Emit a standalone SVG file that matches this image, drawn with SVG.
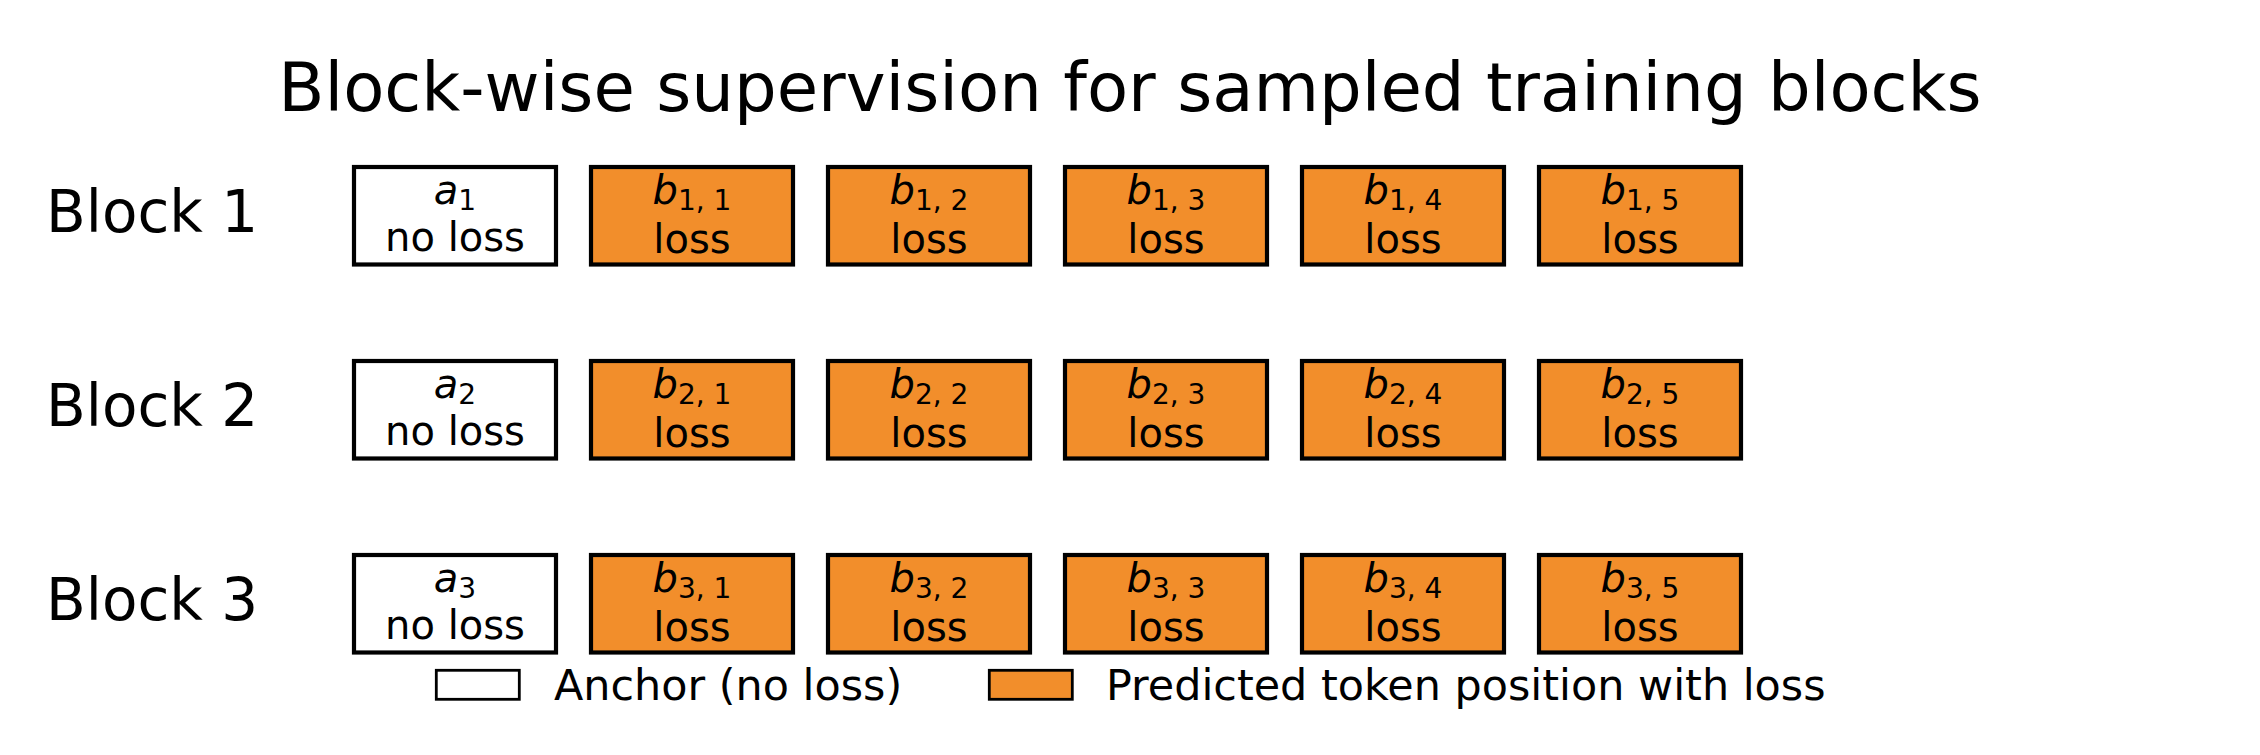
<svg xmlns="http://www.w3.org/2000/svg" width="2260" height="755" viewBox="0 0 2260 755">
<style>
text{font-family:"DejaVu Sans","Liberation Sans",sans-serif;fill:#000}
.title{font-size:67.3px;text-anchor:middle}
.blk{font-size:58px}
.box{stroke:#000;stroke-width:4.2}
.w{fill:#fff}
.o{fill:#F28E2B}
.t{font-size:40px;text-anchor:middle}
.m{font-style:italic}
.s{font-size:28px;font-style:normal}
.leg{font-size:42.9px}
.lp{stroke:#000;stroke-width:2.8}
</style>
<rect width="2260" height="755" fill="#fff"/>
<text class="title" x="1130" y="111">Block-wise supervision for sampled training blocks</text>

<g id="row1">
<text class="blk" x="46" y="232">Block 1</text>
<g id="a1"><rect class="box w" x="354" y="167" width="202" height="97.5"/><text class="t" x="455" y="204"><tspan class="m">a</tspan><tspan class="s" dy="5.5">1</tspan></text><text class="t" x="455" y="251">no loss</text></g>
<g id="b11"><rect class="box o" x="591" y="167" width="202" height="97.5"/><text class="t" x="692" y="204"><tspan class="m">b</tspan><tspan class="s" dy="5.5">1, 1</tspan></text><text class="t" x="692" y="252.5">loss</text></g>
<g id="b12"><rect class="box o" x="828" y="167" width="202" height="97.5"/><text class="t" x="929" y="204"><tspan class="m">b</tspan><tspan class="s" dy="5.5">1, 2</tspan></text><text class="t" x="929" y="252.5">loss</text></g>
<g id="b13"><rect class="box o" x="1065" y="167" width="202" height="97.5"/><text class="t" x="1166" y="204"><tspan class="m">b</tspan><tspan class="s" dy="5.5">1, 3</tspan></text><text class="t" x="1166" y="252.5">loss</text></g>
<g id="b14"><rect class="box o" x="1302" y="167" width="202" height="97.5"/><text class="t" x="1403" y="204"><tspan class="m">b</tspan><tspan class="s" dy="5.5">1, 4</tspan></text><text class="t" x="1403" y="252.5">loss</text></g>
<g id="b15"><rect class="box o" x="1539" y="167" width="202" height="97.5"/><text class="t" x="1640" y="204"><tspan class="m">b</tspan><tspan class="s" dy="5.5">1, 5</tspan></text><text class="t" x="1640" y="252.5">loss</text></g>
</g>

<g id="row2">
<text class="blk" x="46" y="426">Block 2</text>
<g id="a2"><rect class="box w" x="354" y="361" width="202" height="97.5"/><text class="t" x="455" y="398"><tspan class="m">a</tspan><tspan class="s" dy="5.5">2</tspan></text><text class="t" x="455" y="445">no loss</text></g>
<g id="b21"><rect class="box o" x="591" y="361" width="202" height="97.5"/><text class="t" x="692" y="398"><tspan class="m">b</tspan><tspan class="s" dy="5.5">2, 1</tspan></text><text class="t" x="692" y="446.5">loss</text></g>
<g id="b22"><rect class="box o" x="828" y="361" width="202" height="97.5"/><text class="t" x="929" y="398"><tspan class="m">b</tspan><tspan class="s" dy="5.5">2, 2</tspan></text><text class="t" x="929" y="446.5">loss</text></g>
<g id="b23"><rect class="box o" x="1065" y="361" width="202" height="97.5"/><text class="t" x="1166" y="398"><tspan class="m">b</tspan><tspan class="s" dy="5.5">2, 3</tspan></text><text class="t" x="1166" y="446.5">loss</text></g>
<g id="b24"><rect class="box o" x="1302" y="361" width="202" height="97.5"/><text class="t" x="1403" y="398"><tspan class="m">b</tspan><tspan class="s" dy="5.5">2, 4</tspan></text><text class="t" x="1403" y="446.5">loss</text></g>
<g id="b25"><rect class="box o" x="1539" y="361" width="202" height="97.5"/><text class="t" x="1640" y="398"><tspan class="m">b</tspan><tspan class="s" dy="5.5">2, 5</tspan></text><text class="t" x="1640" y="446.5">loss</text></g>
</g>

<g id="row3">
<text class="blk" x="46" y="620">Block 3</text>
<g id="a3"><rect class="box w" x="354" y="555" width="202" height="97.5"/><text class="t" x="455" y="592"><tspan class="m">a</tspan><tspan class="s" dy="5.5">3</tspan></text><text class="t" x="455" y="639">no loss</text></g>
<g id="b31"><rect class="box o" x="591" y="555" width="202" height="97.5"/><text class="t" x="692" y="592"><tspan class="m">b</tspan><tspan class="s" dy="5.5">3, 1</tspan></text><text class="t" x="692" y="640.5">loss</text></g>
<g id="b32"><rect class="box o" x="828" y="555" width="202" height="97.5"/><text class="t" x="929" y="592"><tspan class="m">b</tspan><tspan class="s" dy="5.5">3, 2</tspan></text><text class="t" x="929" y="640.5">loss</text></g>
<g id="b33"><rect class="box o" x="1065" y="555" width="202" height="97.5"/><text class="t" x="1166" y="592"><tspan class="m">b</tspan><tspan class="s" dy="5.5">3, 3</tspan></text><text class="t" x="1166" y="640.5">loss</text></g>
<g id="b34"><rect class="box o" x="1302" y="555" width="202" height="97.5"/><text class="t" x="1403" y="592"><tspan class="m">b</tspan><tspan class="s" dy="5.5">3, 4</tspan></text><text class="t" x="1403" y="640.5">loss</text></g>
<g id="b35"><rect class="box o" x="1539" y="555" width="202" height="97.5"/><text class="t" x="1640" y="592"><tspan class="m">b</tspan><tspan class="s" dy="5.5">3, 5</tspan></text><text class="t" x="1640" y="640.5">loss</text></g>
</g>

<g id="legend">
<rect class="lp w" x="436.3" y="670.3" width="83" height="29"/>
<text class="leg" x="554" y="700">Anchor (no loss)</text>
<rect class="lp o" x="989.3" y="670.3" width="83" height="29"/>
<text class="leg" x="1106" y="700">Predicted token position with loss</text>
</g>
</svg>
